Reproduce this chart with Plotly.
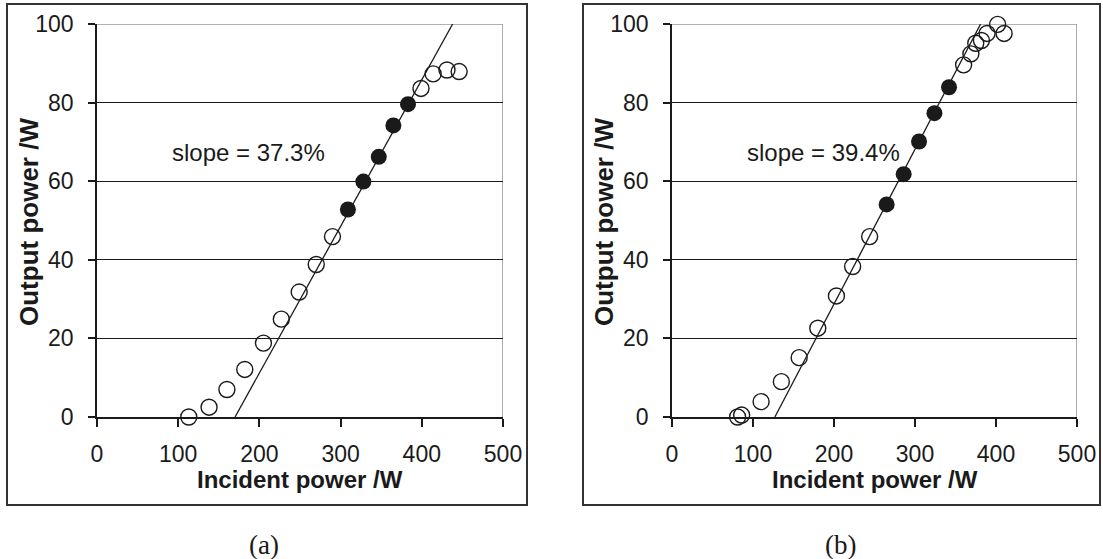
import plotly.graph_objects as go

W, H = 1103, 559

# ---- panel (a) data ----
a_open_x = [113, 138, 160, 182, 205, 227, 249, 270, 290, 399, 414, 431, 446]
a_open_y = [0, 2.5, 7.0, 12.1, 18.8, 24.9, 31.8, 38.8, 45.9, 83.6, 87.3, 88.3, 87.9]
a_fill_x = [309, 328, 347, 365, 383]
a_fill_y = [52.8, 59.9, 66.2, 74.2, 79.6]
a_line_x = [170, 438]
a_line_y = [0, 100]
a_label = "slope = 37.3%"

# ---- panel (b) data ----
b_open_x = [81, 86, 110, 135, 157, 180, 203, 223, 244, 360, 369, 375, 382, 389, 402, 410]
b_open_y = [0, 0.5, 3.9, 9.0, 15.1, 22.6, 30.8, 38.3, 45.9, 89.6, 92.4, 95.1, 95.8, 97.6, 99.9, 97.6]
b_fill_x = [265, 286, 305, 324, 342]
b_fill_y = [54.1, 61.8, 70.1, 77.3, 83.9]
b_line_x = [127, 381]
b_line_y = [0, 100]
b_label = "slope = 39.4%"

x_ticks = [0, 100, 200, 300, 400, 500]
y_ticks = [0, 20, 40, 60, 80, 100]
x_title = "Incident power /W"
y_title = "Output power /W"
captions = ["(a)", "(b)"]

FONT = "Liberation Sans"
INK = "#1a1a1a"

fig = go.Figure()

panels = [
    (a_open_x, a_open_y, a_fill_x, a_fill_y, a_line_x, a_line_y, a_label, "x", "y"),
    (b_open_x, b_open_y, b_fill_x, b_fill_y, b_line_x, b_line_y, b_label, "x2", "y2"),
]
for ox, oy, fx, fy, lx, ly, lab, xa, ya in panels:
    fig.add_trace(go.Scatter(x=lx, y=ly, mode="lines", line=dict(color=INK, width=1.3),
                             xaxis=xa, yaxis=ya, showlegend=False, cliponaxis=False))
    fig.add_trace(go.Scatter(x=ox, y=oy, mode="markers",
                             marker=dict(symbol="circle-open", size=16, color=INK, line=dict(width=1.4)),
                             xaxis=xa, yaxis=ya, showlegend=False, cliponaxis=False))
    fig.add_trace(go.Scatter(x=fx, y=fy, mode="markers",
                             marker=dict(symbol="circle", size=16, color=INK, line=dict(width=0)),
                             xaxis=xa, yaxis=ya, showlegend=False, cliponaxis=False))
    fig.add_annotation(x=90, y=67.4, xref=xa, yref=ya, text=lab, showarrow=False,
                       xanchor="left", yanchor="middle", font=dict(family=FONT, size=24, color=INK))

xdoms = [[97 / W, 503 / W], [672 / W, 1077 / W]]
ydom = [142 / H, 535 / H]

axis_common = dict(showline=True, linecolor=INK, linewidth=1.5, ticks="outside",
                   tickcolor=INK, tickwidth=1.5, zeroline=False, automargin=False,
                   tickfont=dict(family=FONT, size=23, color=INK))

layout = dict(width=W, height=H, margin=dict(l=0, r=0, t=0, b=0, pad=0),
              template="none",
              paper_bgcolor="white", plot_bgcolor="white", showlegend=False)
for i, suf in enumerate(["", "2"]):
    layout["xaxis" + suf] = dict(domain=xdoms[i], range=[0, 500], tickvals=x_ticks,
                                 ticklen=8, showgrid=False, anchor="y" + suf,
                                 ticklabelstandoff=8, **axis_common)
    layout["yaxis" + suf] = dict(domain=ydom, range=[0, 100], tickvals=y_ticks,
                                 ticklen=7, showgrid=True, gridcolor=INK, gridwidth=1.4,
                                 anchor="x" + suf, ticklabelstandoff=10, **axis_common)
fig.update_layout(**layout)

# plot-area top/right borders in grey, and outer frames
for i, suf in enumerate(["", "2"]):
    xr, yr = "x" + suf, "y" + suf
    fig.add_shape(type="line", xref=xr, yref=yr, x0=0, x1=500, y0=100, y1=100,
                  line=dict(color="#999999", width=1.6), layer="below")
    fig.add_shape(type="line", xref=xr, yref=yr, x0=500, x1=500, y0=0, y1=100,
                  line=dict(color="#999999", width=1.6), layer="below")

frames = [(7, 527), (583, 1100)]
for x0, x1 in frames:
    fig.add_shape(type="rect", xref="paper", yref="paper", x0=x0 / W, x1=x1 / W,
                  y0=1 - 505 / H, y1=1 - 4 / H, line=dict(color="#333333", width=2),
                  layer="below")

# axis titles
centers = [(97 + 503) / 2, (672 + 1077) / 2]
ycenters = [29, 604]
for i in range(2):
    fig.add_annotation(x=centers[i] / W, y=1 - 479 / H, xref="paper", yref="paper",
                       text="<b>%s</b>" % x_title, showarrow=False, xanchor="center",
                       yanchor="middle", font=dict(family=FONT, size=24, color=INK))
    fig.add_annotation(x=ycenters[i] / W, y=1 - 222 / H, xref="paper", yref="paper",
                       text="<b>%s</b>" % y_title, showarrow=False, textangle=-90,
                       xanchor="center", yanchor="middle",
                       font=dict(family=FONT, size=26, color=INK))
    fig.add_annotation(x=[264, 840][i] / W, y=1 - 545 / H, xref="paper", yref="paper",
                       text=captions[i], showarrow=False, xanchor="center", yanchor="middle",
                       font=dict(family="Liberation Serif", size=27, color=INK))

fig.write_html("out.html", config={"displayModeBar": False},
               post_script="document.body.style.margin='0px';document.body.style.padding='0px';")
